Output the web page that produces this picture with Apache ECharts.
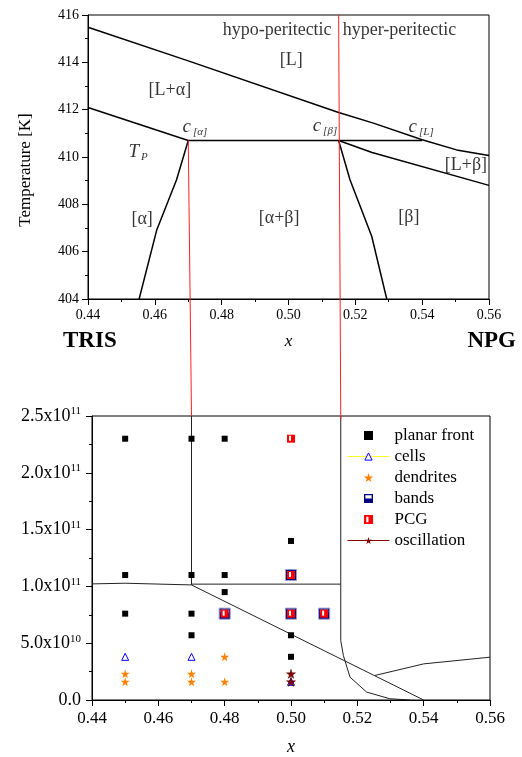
<!DOCTYPE html>
<html lang="en">
<head>
<meta charset="utf-8">
<script src="https://cdn.jsdelivr.net/npm/echarts@6/dist/echarts.min.js"></script>
<style>
    html, body {margin: 0; padding: 0; background: #fff;}
    #main {width: 522px; height: 757px;}
</style>
</head>
<body>
<div id="main"></div>
<script>
    var FONT = 'Liberation Serif';

    // ---- upper panel: phase diagram, x vs T [K] ----
    var liquidus = [[0.44, 415.48], [0.47, 414.06], [0.515, 411.88], [0.5254, 411.43], [0.54, 410.73], [0.5503, 410.30], [0.56, 410.06]];
    var solidusA = [[0.44, 412.09], [0.47, 410.7]];
    var peritectic = [[0.47, 410.7], [0.54, 410.7]];
    var solidusB = [[0.515, 410.7], [0.525, 410.19], [0.56, 408.8]];
    var solvusA = [[0.47, 410.7], [0.4665, 409.04], [0.4606, 406.93], [0.4553, 404]];
    var solvusB = [[0.515, 410.7], [0.5184, 409.04], [0.5249, 406.65], [0.5294, 404]];

    var annoX = [0.4966, 0.5332, 0.5008, 0.4645, 0.4550, 0.4720, 0.5109, 0.5397, 0.5531, 0.4562, 0.4972, 0.5360];
    var annoY = [415.37, 415.37, 414.10, 412.83, 410.17, 411.23, 411.27, 411.23, 409.63, 407.35, 407.43, 407.47];
    var annoText = ['{n|hypo-peritectic}', '{n|hyper-peritectic}', '{r|[L]}', '{r|[L+α]}', '{it|T}{sub|P}',
        '{it|c}{sub|[α]}', '{it|c}{sub|[β]}', '{it|c}{sub|[L]}', '{r|[L+β]}', '{r|[α]}', '{r|[α+β]}', '{r|[β]}'];

    // ---- lower panel: x vs G/v ----
    var boundLeft = [[0.47, 2.5e11], [0.47, 1.013e11]];
    var boundTop = [[0.44, 1.022e11], [0.45, 1.028e11], [0.47, 1.013e11]];
    var boundFlat = [[0.47, 1.02e11], [0.515, 1.02e11]];
    var boundDiag = [[0.47, 1.013e11], [0.54, 0]];
    var boundRight = [[0.515, 2.5e11], [0.515, 0.522e11], [0.5158, 0.391e11], [0.5178, 0.201e11], [0.5228, 0.070e11], [0.5298, 0.011e11], [0.5359, 0]];
    var boundB = [[0.5253, 0.216e11], [0.54, 0.318e11], [0.56, 0.377e11]];

    var planarX = [0.45, 0.47, 0.48, 0.50, 0.45, 0.47, 0.48, 0.48, 0.45, 0.47, 0.47, 0.50, 0.50];
    var planarY = [2.3e11, 2.3e11, 2.3e11, 1.4e11, 1.1e11, 1.1e11, 1.1e11, 0.95e11, 0.76e11, 0.76e11, 0.57e11, 0.57e11, 0.38e11];
    var cellsX = [0.45, 0.47, 0.50];
    var cellsY = [0.38e11, 0.38e11, 0.16e11];
    var dendX = [0.45, 0.45, 0.47, 0.47, 0.48, 0.48];
    var dendY = [0.23e11, 0.16e11, 0.23e11, 0.16e11, 0.38e11, 0.16e11];
    var bandsX = [0.48, 0.50, 0.50, 0.51];
    var bandsY = [0.76e11, 0.76e11, 1.1e11, 0.76e11];
    var pcgX = [0.48, 0.50, 0.50, 0.51, 0.50];
    var pcgY = [0.76e11, 0.76e11, 1.1e11, 0.76e11, 2.3e11];
    var oscX = [0.50, 0.50];
    var oscY = [0.23e11, 0.16e11];

    function pairs(xs, ys) {
        return xs.map(function (x, i) { return [x, ys[i]]; });
    }

    var STAR = 'path://M50 0L61 35H98L68 57L79 91L50 70L21 91L32 57L2 35H39Z';
    var SQUARE = 'path://M0 0H10V10H0Z';
    var BANDS_ICON = 'path://M0 0H10V10H0Z M1.5 1.5V5H8.5V1.5Z';
    var PCG_ICON = 'path://M0 0H10V10H0Z M2.5 2V8H5V2Z';

    function lineSeries(data, grid, color, width) {
        return {
            type: 'line', xAxisIndex: grid, yAxisIndex: grid, data: data,
            symbol: 'none', silent: true, z: 2,
            lineStyle: {color: color, width: width}
        };
    }

    function renderBands(params, api) {
        var p = api.coord([api.value(0), api.value(1)]);
        return {
            type: 'group', children: [
                {type: 'rect', shape: {x: p[0] - 5.5, y: p[1] - 5.5, width: 11, height: 11}, style: {fill: '#000080', stroke: '#9a9acc', lineWidth: 1}},
                {type: 'rect', shape: {x: p[0] - 4, y: p[1] - 4, width: 8, height: 3}, style: {fill: '#fff'}}
            ]
        };
    }
    function renderPCG(params, api) {
        var p = api.coord([api.value(0), api.value(1)]);
        return {
            type: 'group', children: [
                {type: 'rect', shape: {x: p[0] - 4, y: p[1] - 4, width: 8, height: 8}, style: {fill: '#ff0000'}},
                {type: 'rect', shape: {x: p[0] - 2, y: p[1] - 3, width: 2, height: 5}, style: {fill: '#fff'}}
            ]
        };
    }

    var axisText = {color: '#000', fontFamily: FONT};
    var titleText = {fontFamily: FONT, fontSize: 23, fontWeight: 'bold', fill: '#000'};

    var chart = echarts.init(document.getElementById('main'));
    chart.setOption({
        animation: false,
        backgroundColor: '#fff',
        textStyle: {fontFamily: FONT, color: '#000'},
        grid: [
            {left: 88, right: 33, top: 15, height: 284, show: true, borderColor: '#000', borderWidth: 1},
            {left: 92, right: 32, top: 416, height: 285, show: true, borderColor: '#000', borderWidth: 1}
        ],
        xAxis: [
            {
                gridIndex: 0, type: 'value', min: 0.44, max: 0.56, interval: 0.02,
                name: 'x', nameLocation: 'middle', nameGap: 34,
                nameTextStyle: {fontFamily: FONT, fontSize: 17, fontStyle: 'italic', color: '#000'},
                axisLine: {lineStyle: {color: '#000', width: 1}},
                axisTick: {length: 6, lineStyle: {color: '#000'}},
                minorTick: {show: true, splitNumber: 2, length: 3, lineStyle: {color: '#000'}},
                splitLine: {show: false},
                axisLabel: Object.assign({fontSize: 14, margin: 9, formatter: function (v) { return v.toFixed(2); }}, axisText)
            },
            {
                gridIndex: 1, type: 'value', min: 0.44, max: 0.56, interval: 0.02,
                name: 'x', nameLocation: 'middle', nameGap: 38,
                nameTextStyle: {fontFamily: FONT, fontSize: 18, fontStyle: 'italic', color: '#000'},
                axisLine: {lineStyle: {color: '#000', width: 1}},
                axisTick: {length: 6, lineStyle: {color: '#000'}},
                minorTick: {show: true, splitNumber: 2, length: 3, lineStyle: {color: '#000'}},
                splitLine: {show: false},
                axisLabel: Object.assign({fontSize: 17, margin: 10, formatter: function (v) { return v.toFixed(2); }}, axisText)
            }
        ],
        yAxis: [
            {
                gridIndex: 0, type: 'value', min: 404, max: 416, interval: 2,
                name: 'Temperature [K]', nameLocation: 'middle', nameGap: 54,
                nameTextStyle: {fontFamily: FONT, fontSize: 17, color: '#000', padding: [0, 26, 0, 0]},
                axisLine: {show: true, lineStyle: {color: '#000', width: 1}},
                axisTick: {show: true, length: 6, lineStyle: {color: '#000'}},
                minorTick: {show: true, splitNumber: 2, length: 3, lineStyle: {color: '#000'}},
                splitLine: {show: false},
                axisLabel: Object.assign({fontSize: 14, margin: 9}, axisText)
            },
            {
                gridIndex: 1, type: 'value', min: 0, max: 2.5e11, interval: 0.5e11,
                axisLine: {show: true, lineStyle: {color: '#000', width: 1}},
                axisTick: {show: true, length: 6, lineStyle: {color: '#000'}},
                minorTick: {show: true, splitNumber: 2, length: 3, lineStyle: {color: '#000'}},
                splitLine: {show: false},
                axisLabel: {
                    margin: 11,
                    formatter: function (v) {
                        if (v === 0) return '{b|0.0}';
                        var e = Math.floor(Math.log10(v) + 1e-9);
                        var m = v / Math.pow(10, e);
                        return '{b|' + m.toFixed(1) + 'x10}{s|' + e + '}';
                    },
                    rich: {
                        b: {fontFamily: FONT, fontSize: 18, color: '#000', lineHeight: 20},
                        s: {fontFamily: FONT, fontSize: 11, color: '#000', lineHeight: 10, verticalAlign: 'top'}
                    }
                }
            }
        ],
        legend: {
            orient: 'vertical', left: 342, top: 422,
            itemWidth: 42, itemHeight: 9, itemGap: 4,
            textStyle: {fontFamily: FONT, fontSize: 17, color: '#000', lineHeight: 16},
            selectedMode: false,
            data: [
                {name: 'planar front', icon: SQUARE, itemStyle: {color: '#000'}},
                {name: 'cells', lineStyle: {color: '#ffff33', width: 1, opacity: 1}, itemStyle: {color: '#fff', borderColor: '#0000ff', borderWidth: 1}},
                {name: 'dendrites'},
                {name: 'bands', icon: BANDS_ICON, itemStyle: {color: '#000080'}},
                {name: 'PCG', icon: PCG_ICON, itemStyle: {color: '#ff0000'}},
                {name: 'oscillation', lineStyle: {color: '#800000', width: 1, opacity: 1}, itemStyle: {color: '#800000', borderWidth: 0}}
            ]
        },
        series: [
            lineSeries(liquidus, 0, '#000', 1.5),
            lineSeries(solidusA, 0, '#000', 1.5),
            lineSeries(peritectic, 0, '#000', 1.5),
            lineSeries(solidusB, 0, '#000', 1.5),
            lineSeries(solvusA, 0, '#000', 1.5),
            lineSeries(solvusB, 0, '#000', 1.5),
            {
                type: 'scatter', xAxisIndex: 0, yAxisIndex: 0, symbolSize: 0, silent: true, z: 5,
                data: annoText.map(function (t, i) {
                    return {value: [annoX[i], annoY[i]], label: {formatter: t}};
                }),
                label: {
                    show: true, position: 'inside', color: '#000',
                    rich: {
                        n: {fontFamily: FONT, fontSize: 18, color: '#000'},
                        r: {fontFamily: FONT, fontSize: 18, color: '#000'},
                        it: {fontFamily: FONT, fontSize: 19, fontStyle: 'italic', color: '#000', lineHeight: 20, verticalAlign: 'top'},
                        sub: {fontFamily: FONT, fontSize: 11, fontStyle: 'italic', color: '#000', lineHeight: 12, verticalAlign: 'bottom', padding: [0, 0, 0, 2]}
                    }
                }
            },
            lineSeries(boundLeft, 1, '#222', 1),
            lineSeries(boundTop, 1, '#222', 1),
            lineSeries(boundFlat, 1, '#222', 1),
            lineSeries(boundDiag, 1, '#222', 1),
            lineSeries(boundRight, 1, '#222', 1),
            lineSeries(boundB, 1, '#222', 1),
            {
                name: 'planar front', type: 'scatter', xAxisIndex: 1, yAxisIndex: 1, z: 4,
                symbol: 'rect', symbolSize: 6, itemStyle: {color: '#000', opacity: 1},
                data: pairs(planarX, planarY)
            },
            {
                name: 'cells', type: 'line', xAxisIndex: 1, yAxisIndex: 1, z: 4,
                symbol: 'triangle', symbolSize: 7, showAllSymbol: true,
                lineStyle: {color: '#ffff33', opacity: 0},
                itemStyle: {color: '#fff', borderColor: '#0000ff', borderWidth: 1},
                data: pairs(cellsX, cellsY)
            },
            {
                name: 'dendrites', type: 'scatter', xAxisIndex: 1, yAxisIndex: 1, z: 4,
                symbol: STAR, symbolSize: 9, itemStyle: {color: '#ff8000', opacity: 1},
                data: pairs(dendX, dendY)
            },
            {
                name: 'bands', type: 'custom', xAxisIndex: 1, yAxisIndex: 1, z: 4,
                renderItem: renderBands, itemStyle: {color: '#000080'},
                data: pairs(bandsX, bandsY)
            },
            {
                name: 'PCG', type: 'custom', xAxisIndex: 1, yAxisIndex: 1, z: 5,
                renderItem: renderPCG, itemStyle: {color: '#ff0000'},
                data: pairs(pcgX, pcgY)
            },
            {
                name: 'oscillation', type: 'line', xAxisIndex: 1, yAxisIndex: 1, z: 6,
                symbol: STAR, symbolSize: 9, showAllSymbol: true,
                lineStyle: {color: '#800000', opacity: 0},
                itemStyle: {color: '#800000', borderColor: '#500000', borderWidth: 0.5},
                data: pairs(oscX, oscY)
            }
        ],
        graphic: [
            {type: 'text', left: 63, top: 330, style: Object.assign({text: 'TRIS'}, titleText)},
            {type: 'text', right: 6, top: 330, style: Object.assign({text: 'NPG'}, titleText)}
        ]
    });

    // red guide lines linking the peritectic compositions of both panels
    var a1 = chart.convertToPixel({gridIndex: 0}, [0.47, 410.7]);
    var b1 = chart.convertToPixel({gridIndex: 1}, [0.47, 2.5e11]);
    var a2 = chart.convertToPixel({gridIndex: 0}, [0.515, 416]);
    var b2 = chart.convertToPixel({gridIndex: 1}, [0.515, 2.47e11]);
    chart.setOption({
        graphic: [
            {type: 'text', left: 63, top: 330, style: Object.assign({text: 'TRIS'}, titleText)},
            {type: 'text', right: 6, top: 330, style: Object.assign({text: 'NPG'}, titleText)},
            {type: 'line', z: 10, shape: {x1: a1[0], y1: a1[1], x2: b1[0], y2: b1[1]}, style: {stroke: '#ff2020', lineWidth: 1}},
            {type: 'line', z: 10, shape: {x1: a2[0], y1: a2[1], x2: b2[0], y2: b2[1]}, style: {stroke: '#ff2020', lineWidth: 1}}
        ]
    });
</script>
</body>
</html>
